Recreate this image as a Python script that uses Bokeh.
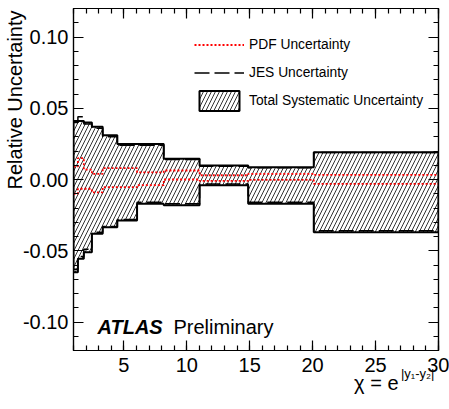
import numpy as np
from bokeh.plotting import figure
from bokeh.models import (Range1d, LinearAxis, FixedTicker, NumeralTickFormatter,
                          Label, Legend, LegendItem, Title)
from bokeh.embed import file_html
from bokeh.resources import INLINE

# ---- data ----
chi_edges = [1.0, 1.35, 1.82, 2.46, 3.32, 4.48, 6.05, 8.17, 11.02, 14.88, 20.09, 30.0]
total_up = [0.041, 0.041, 0.040, 0.037, 0.031, 0.025, 0.025, 0.0145, 0.0098, 0.0086, 0.0192]
total_down = [-0.065, -0.0556, -0.051, -0.038, -0.0335, -0.0288, -0.017, -0.018, -0.0040, -0.0171, -0.037]
jes_up = [0.040, 0.044, 0.039, 0.036, 0.030, 0.024, 0.024, 0.014, 0.0093, 0.0082, 0.019]
jes_down = [-0.063, -0.054, -0.049, -0.037, -0.033, -0.028, -0.016, -0.017, -0.0032, -0.016, -0.036]
pdf_up = [0.009, 0.015, 0.007, 0.004, 0.008, 0.008, 0.005, 0.0063, 0.003, 0.004, 0.0033]
pdf_down = [-0.010, -0.0065, -0.0065, -0.009, -0.0054, -0.0054, -0.004, 0.000, -0.001, -0.0002, -0.003]
x_ticks = [5, 10, 15, 20, 25, 30]
y_ticks = [-0.10, -0.05, 0.00, 0.05, 0.10]

FONT = "Liberation Sans"

p = figure(width=449, height=409, x_range=Range1d(1, 30), y_range=Range1d(-0.12, 0.12),
           output_backend="svg", toolbar_location=None,
           min_border_left=73, min_border_right=11, min_border_top=8, min_border_bottom=59)
p.xgrid.visible = False
p.ygrid.visible = False
p.outline_line_color = "black"
p.outline_line_width = 1.2
p.background_fill_color = "white"
p.border_fill_color = "white"

edges = np.array(chi_edges)

def step_vals(v):
    return list(v) + [v[-1]]

# hatched total band as one polygon
xs_up = np.repeat(edges, 2)[1:-1]
ys_up = np.repeat(np.array(total_up), 2)
xs_dn = xs_up[::-1]
ys_dn = np.repeat(np.array(total_down), 2)[::-1]
band = p.patch(np.concatenate([xs_up, xs_dn]), np.concatenate([ys_up, ys_dn]),
               fill_color=None, hatch_pattern="/", hatch_color="black",
               hatch_weight=0.8, hatch_scale=8,
               line_color="black", line_width=2)

# PDF uncertainty (red dotted)
pdf_r = p.step(chi_edges, step_vals(pdf_up), mode="after", line_color="#ff0000",
               line_dash="2 2", line_width=1.8)
p.step(chi_edges, step_vals(pdf_down), mode="after", line_color="#ff0000",
       line_dash="2 2", line_width=1.8)

# JES uncertainty (black dashed)
jes_r = p.step(chi_edges, step_vals(jes_up), mode="after", line_color="black",
               line_dash="15 5", line_width=1.5)
p.step(chi_edges, step_vals(jes_down), mode="after", line_color="black",
       line_dash="15 5", line_width=1.5)

# ---- axes ----
x_minor = list(np.arange(1, 31))
y_minor = list(np.round(np.arange(-0.12, 0.1201, 0.01), 3))

def style_axis(ax, labels=True):
    ax.axis_line_color = "black"
    ax.axis_line_width = 1.2
    ax.major_tick_in = 10
    ax.major_tick_out = 0
    ax.minor_tick_in = 5
    ax.minor_tick_out = 0
    ax.major_tick_line_color = "black"
    ax.minor_tick_line_color = "black"
    ax.major_tick_line_width = 1.2
    ax.minor_tick_line_width = 1.2
    ax.major_label_text_font = FONT
    ax.major_label_text_font_size = "20px"
    ax.major_label_text_color = "black"
    if not labels:
        ax.major_label_text_font_size = "1px"
        ax.major_label_text_color = None
        ax.major_label_standoff = 0

xax = p.xaxis[0]
xax.ticker = FixedTicker(ticks=x_ticks, minor_ticks=x_minor)
style_axis(xax)
xax.major_label_standoff = 7

yax = p.yaxis[0]
yax.ticker = FixedTicker(ticks=y_ticks, minor_ticks=y_minor)
yax.formatter = NumeralTickFormatter(format="0.00")
style_axis(yax)
yax.major_label_standoff = 5

top_ax = LinearAxis(ticker=FixedTicker(ticks=x_ticks, minor_ticks=x_minor))
style_axis(top_ax, labels=False)
p.add_layout(top_ax, "above")
right_ax = LinearAxis(ticker=FixedTicker(ticks=y_ticks, minor_ticks=y_minor))
style_axis(right_ax, labels=False)
p.add_layout(right_ax, "right")

# y-axis title, at the top end of the axis
p.add_layout(Title(text="Relative Uncertainty", align="right", offset=2, standoff=-12,
                   vertical_align="bottom", text_font=FONT, text_font_size="20px",
                   text_font_style="normal", text_color="black"), "left")

# x-axis title: superscript row, then the main row
p.add_layout(Title(text="|y\u2081-y\u2082|", align="right", offset=4, standoff=-17,
                   vertical_align="top", text_font=FONT, text_font_size="13px",
                   text_font_style="normal", text_color="black"), "below")
p.add_layout(Title(text="\u03c7 = e", align="right", offset=40, standoff=-6,
                   vertical_align="top", text_font=FONT, text_font_size="20px",
                   text_font_style="normal", text_color="black"), "below")

# ---- ATLAS Preliminary ----
p.add_layout(Label(x=1, y=-0.12, x_offset=24, y_offset=24, text="ATLAS",
                   text_font=FONT, text_font_style="bold italic", text_font_size="20px",
                   text_baseline="alphabetic", text_color="black"))
p.add_layout(Label(x=1, y=-0.12, x_offset=100, y_offset=24, text="Preliminary",
                   text_font=FONT, text_font_size="20px",
                   text_baseline="alphabetic", text_color="black"))

# ---- legend ----
legend = Legend(items=[LegendItem(label="PDF Uncertainty", renderers=[pdf_r]),
                       LegendItem(label="JES Uncertainty", renderers=[jes_r]),
                       LegendItem(label="Total Systematic Uncertainty", renderers=[band])],
                location=(121, 237.5), padding=0, margin=0, spacing=3,
                glyph_width=50, glyph_height=25, label_height=25, label_standoff=5,
                border_line_color=None, background_fill_alpha=0,
                label_text_font=FONT, label_text_font_size="13.8px",
                label_text_color="black")
p.add_layout(legend)

open("out.html", "w").write(file_html(p, INLINE))
